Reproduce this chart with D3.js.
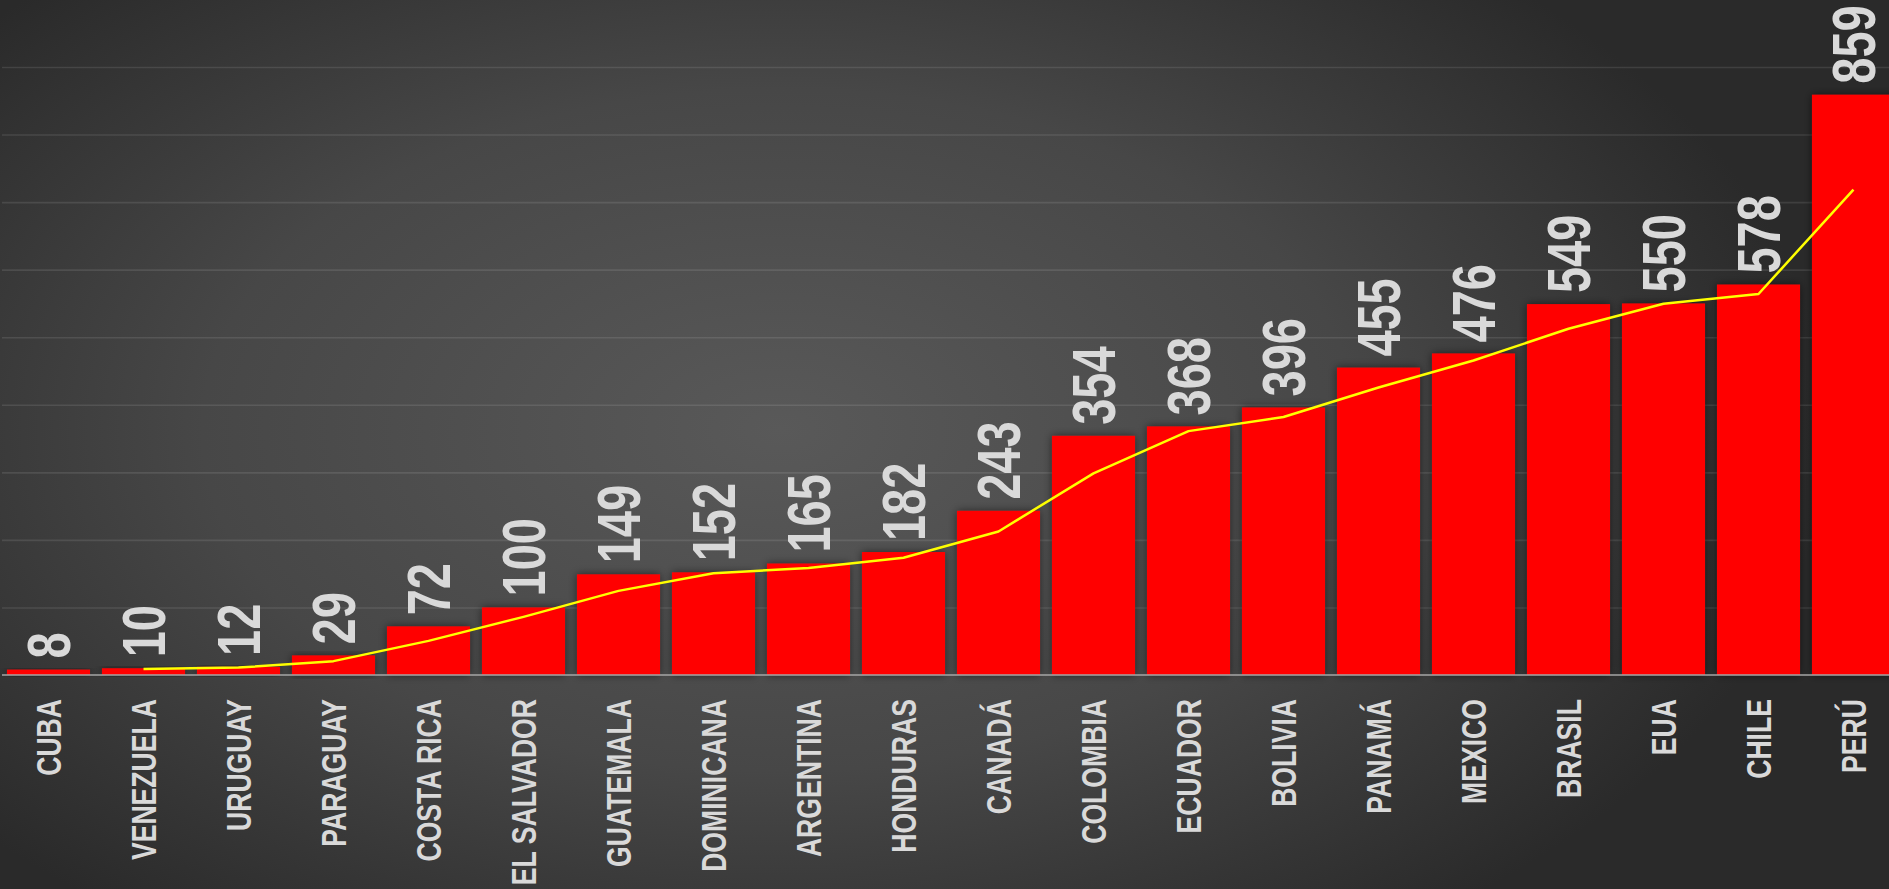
<!DOCTYPE html>
<html>
<head>
<meta charset="utf-8">
<script src="https://cdn.jsdelivr.net/npm/d3@7/dist/d3.min.js"></script>
<style>
html,body{margin:0;padding:0;background:#2a2a2a;overflow:hidden;}
svg{display:block;}
</style>
</head>
<body>
<svg id="chart" width="1889" height="889"></svg>
<script>
const categories = ["CUBA","VENEZUELA","URUGUAY","PARAGUAY","COSTA RICA","EL SALVADOR","GUATEMALA","DOMINICANA","ARGENTINA","HONDURAS","CANADÁ","COLOMBIA","ECUADOR","BOLIVIA","PANAMÁ","MEXICO","BRASIL","EUA","CHILE","PERÚ"];
const values = [8,10,12,29,72,100,149,152,165,182,243,354,368,396,455,476,549,550,578,859];
// trend line (2-period moving average as drawn in the picture), starts at VENEZUELA
const trendCategories = ["VENEZUELA","URUGUAY","PARAGUAY","COSTA RICA","EL SALVADOR","GUATEMALA","DOMINICANA","ARGENTINA","HONDURAS","CANADÁ","COLOMBIA","ECUADOR","BOLIVIA","PANAMÁ","MEXICO","BRASIL","EUA","CHILE","PERÚ"];
const trendValues = [9,11,20.5,50.5,86,124.5,150.5,158.5,173.5,212.5,298.5,361,382,425.5,465.5,512.5,549.5,564,718.5];
const yTicks = [100,200,300,400,500,600,700,800,900];

const W = 1889, H = 889;
const svg = d3.select("#chart");
const defs = svg.append("defs");

const bg = defs.append("radialGradient").attr("id","bg")
  .attr("gradientUnits","userSpaceOnUse")
  .attr("cx",0).attr("cy",0).attr("r",1)
  .attr("gradientTransform","translate(780,430) scale(1050,620)");
bg.append("stop").attr("offset","0").attr("stop-color","#595959");
bg.append("stop").attr("offset","0.55").attr("stop-color","#474747");
bg.append("stop").attr("offset","1").attr("stop-color","#2a2a2a");

const sh = defs.append("filter").attr("id","shadow")
  .attr("x","-20%").attr("y","-20%").attr("width","140%").attr("height","140%");
sh.append("feDropShadow").attr("dx",0).attr("dy",0).attr("stdDeviation",4)
  .attr("flood-color","#000").attr("flood-opacity",0.55);

svg.append("rect").attr("width",W).attr("height",H).attr("fill","url(#bg)");

const x = d3.scaleBand().domain(categories).range([1,1901]).paddingInner(0.126).paddingOuter(0.063);
const y = d3.scaleLinear().domain([0,900]).range([675,67]);

// gridlines
const yAxis = d3.axisLeft(y).tickValues(yTicks).tickSize(-(W-2)).tickFormat("");
const gAxis = svg.append("g").attr("transform","translate(2,0)").call(yAxis);
gAxis.select(".domain").remove();
gAxis.selectAll(".tick line").attr("stroke","#ffffff").attr("stroke-opacity",0.1).attr("stroke-width",1.6);

// bars
svg.append("g").selectAll("rect").data(values).join("rect")
  .attr("x",(d,i)=>x(categories[i]))
  .attr("y",d=>y(d))
  .attr("width",x.bandwidth())
  .attr("height",d=>y(0)-y(d))
  .attr("fill","#ff0000")
  .attr("filter","url(#shadow)");

// baseline
svg.append("line").attr("x1",2).attr("x2",W).attr("y1",y(0)).attr("y2",y(0))
  .attr("stroke","#a6a6a6").attr("stroke-width",1.5);

// trend line
const line = d3.line()
  .x((d,i)=>x(trendCategories[i]) + x.bandwidth()/2)
  .y(d=>y(d));
svg.append("path").datum(trendValues).attr("d",line)
  .attr("fill","none").attr("stroke","#ffff00").attr("stroke-width",2.5)
  .attr("stroke-linejoin","round");

// value labels
svg.append("g").selectAll("text").data(values).join("text")
  .attr("transform",(d,i)=>`translate(${x(categories[i]) + x.bandwidth()/2},${y(d)-11}) rotate(-90) scale(0.77,1)`)
  .attr("dy","0.35em")
  .attr("text-anchor","start")
  .attr("font-family","'Liberation Sans', Arial, sans-serif")
  .attr("font-weight","bold")
  .attr("font-size",61)
  .attr("fill","#d9d9d9")
  .text(d=>d);

// category labels
svg.append("g").selectAll("text").data(categories).join("text")
  .attr("transform",d=>`translate(${x(d) + x.bandwidth()/2},699) rotate(-90) scale(0.76,1)`)
  .attr("dy","0.35em")
  .attr("text-anchor","end")
  .attr("font-family","'Liberation Sans', Arial, sans-serif")
  .attr("font-weight","bold")
  .attr("font-size",35)
  .attr("fill","#d9d9d9")
  .text(d=>d);
</script>
</body>
</html>
